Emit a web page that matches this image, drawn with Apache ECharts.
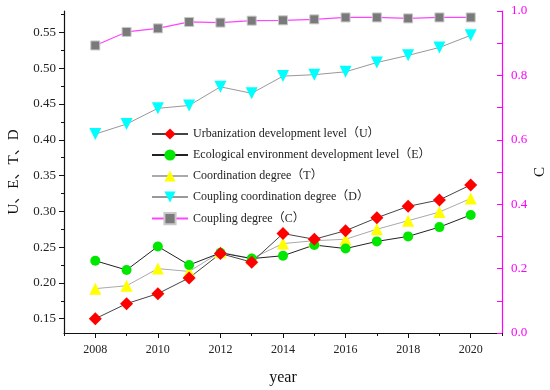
<!DOCTYPE html>
<html>
<head>
<meta charset="utf-8">
<script src="https://cdn.jsdelivr.net/npm/echarts@6/dist/echarts.min.js"></script>
<style>html,body{margin:0;padding:0;background:#fff;}#c{width:550px;height:390px;}</style>
</head>
<body>
<div id="c"></div>
<script>
const years = [2008,2009,2010,2011,2012,2013,2014,2015,2016,2017,2018,2019,2020];
const U = [0.150,0.171,0.185,0.207,0.241,0.229,0.269,0.261,0.273,0.291,0.307,0.316,0.337];
const E = [0.231,0.218,0.251,0.225,0.242,0.234,0.238,0.253,0.248,0.258,0.265,0.278,0.295];
const T = [0.192,0.196,0.220,0.216,0.243,0.234,0.255,0.259,0.261,0.275,0.287,0.299,0.318];
const D = [0.408,0.422,0.444,0.448,0.474,0.465,0.489,0.491,0.495,0.508,0.518,0.529,0.546];
const C = [0.893,0.935,0.946,0.966,0.964,0.970,0.971,0.974,0.980,0.980,0.977,0.980,0.980];
const xLabels = [2008,2010,2012,2014,2016,2018,2020];
const xMinor = [2007,2009,2011,2013,2015,2017,2019,2021];
const yLabels = [0.15,0.20,0.25,0.30,0.35,0.40,0.45,0.50,0.55];
const yMinor = [0.175,0.225,0.275,0.325,0.375,0.425,0.475,0.525,0.575];
const names = ['Urbanization development level（U）','Ecological environment development level（E）','Coordination degree（T）','Coupling coordination degree（D）','Coupling degree（C）'];

const serif = '"Liberation Serif","DejaVu Serif","Noto Sans CJK SC",serif';
const pair = arr => years.map((y,i)=>[y,arr[i]]);
const chart = echarts.init(document.getElementById('c'));
chart.setOption({
  animation:false,
  backgroundColor:'#fff',
  grid:{left:64,right:48,top:11,bottom:57,containLabel:false,outerBoundsMode:'none'},
  legend:{
    orient:'vertical', left:146, top:123, itemGap:9, itemWidth:36, itemHeight:14,
    textStyle:{fontFamily:serif,fontSize:12,color:'#222'},
    data:names
  },
  xAxis:[{
    type:'value', min:2007, max:2021, position:'bottom',
    name:'year', nameLocation:'middle', nameGap:37,
    nameTextStyle:{fontFamily:serif,fontSize:16,color:'#111'},
    axisLine:{show:true,onZero:false,lineStyle:{color:'#111',width:1.2}},
    axisTick:{show:true,inside:false,length:5,customValues:xLabels,lineStyle:{color:'#111'}},
    axisLabel:{customValues:xLabels,margin:11,fontFamily:serif,fontSize:12,color:'#222',formatter:v=>String(v)},
    splitLine:{show:false}
  },{
    type:'value', min:2007, max:2021, position:'bottom',
    axisLine:{show:false},
    axisTick:{show:true,inside:false,length:3,customValues:xMinor,lineStyle:{color:'#111'}},
    axisLabel:{show:false}, splitLine:{show:false}
  }],
  yAxis:[{
    type:'value', min:0.13, max:0.58, position:'left',
    name:'U、E、T、D', nameLocation:'middle', nameGap:42,
    nameTextStyle:{fontFamily:serif,fontSize:15,color:'#111'},
    axisLine:{show:true,onZero:false,lineStyle:{color:'#111',width:1.2}},
    axisTick:{show:true,inside:false,length:5,customValues:yLabels,lineStyle:{color:'#111'}},
    axisLabel:{customValues:yLabels,margin:8,fontFamily:serif,fontSize:13,color:'#222',formatter:v=>v.toFixed(2)},
    splitLine:{show:false}
  },{
    type:'value', min:0, max:1, interval:0.2, position:'right',
    name:'C', nameLocation:'middle', nameGap:31, nameMoveOverlap:false,
    nameTextStyle:{fontFamily:serif,fontSize:15,color:'#111'},
    axisLine:{show:true,onZero:false,lineStyle:{color:'#ff00ff',width:1.2}},
    axisTick:{show:true,inside:true,length:5,lineStyle:{color:'#ff00ff'}},
    minorTick:{show:true,splitNumber:2,length:5,lineStyle:{color:'#ff00ff'}},
    axisLabel:{margin:9,fontFamily:serif,fontSize:13,color:'#ff00ff',formatter:v=>v.toFixed(1)},
    splitLine:{show:false}
  },{
    type:'value', min:0.13, max:0.58, position:'left',
    axisLine:{show:false},
    axisTick:{show:true,inside:false,length:3,customValues:yMinor,lineStyle:{color:'#111'}},
    axisLabel:{show:false}, splitLine:{show:false}
  }],
  series:[
    {name:names[3],type:'line',yAxisIndex:0,data:pair(D),symbol:'triangle',symbolRotate:180,symbolSize:12,
     lineStyle:{color:'#999',width:1},itemStyle:{color:'#00ffff'}},
    {name:names[4],type:'line',yAxisIndex:1,data:pair(C),symbol:'rect',symbolSize:9,
     lineStyle:{color:'#ff44ff',width:1.2},itemStyle:{color:'#7a7a7a',borderColor:'#c8c8c8',borderWidth:1}},
    {name:names[2],type:'line',yAxisIndex:0,data:pair(T),symbol:'triangle',symbolSize:12,
     lineStyle:{color:'#aaa',width:1},itemStyle:{color:'#ffff00'}},
    {name:names[1],type:'line',yAxisIndex:0,data:pair(E),symbol:'circle',symbolSize:10,
     lineStyle:{color:'#222',width:1},itemStyle:{color:'#00e800'}},
    {name:names[0],type:'line',yAxisIndex:0,data:pair(U),symbol:'diamond',symbolSize:13,
     lineStyle:{color:'#444',width:1},itemStyle:{color:'#ff0000'}}
  ]
});
</script>
</body>
</html>
